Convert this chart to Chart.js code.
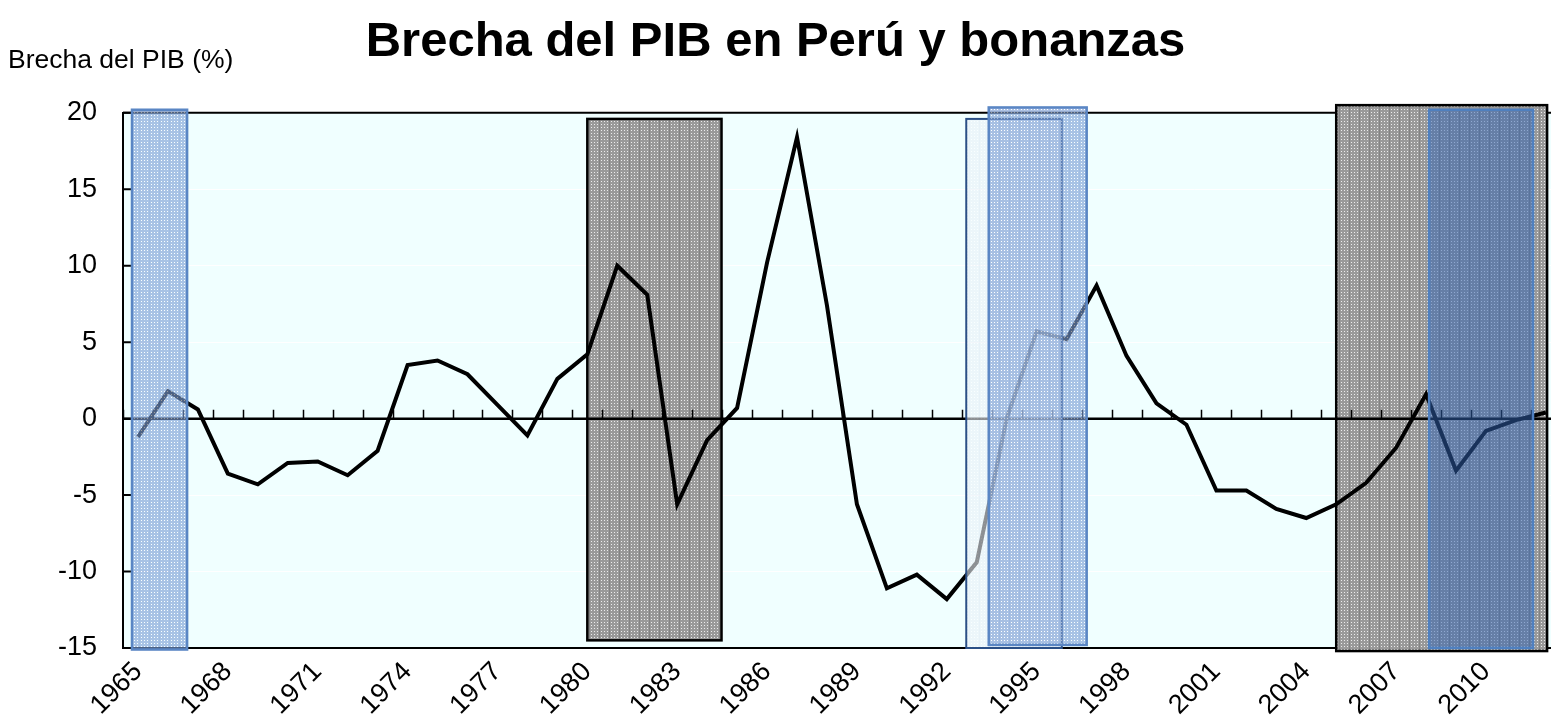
<!DOCTYPE html>
<html>
<head>
<meta charset="utf-8">
<script src="https://cdn.jsdelivr.net/npm/chart.js@4.4.0/dist/chart.umd.min.js"></script>
<style>
  html, body { margin: 0; padding: 0; background: #fff; overflow: hidden; }
</style>
</head>
<body>
<canvas id="gapChart" width="1551" height="720"></canvas>
<script>
// Brecha del PIB (%) por año
var years = [1965, 1966, 1967, 1968, 1969, 1970, 1971, 1972, 1973, 1974,
             1975, 1976, 1977, 1978, 1979, 1980, 1981, 1982, 1983, 1984,
             1985, 1986, 1987, 1988, 1989, 1990, 1991, 1992, 1993, 1994,
             1995, 1996, 1997, 1998, 1999, 2000, 2001, 2002, 2003, 2004,
             2005, 2006, 2007, 2008, 2009, 2010, 2011, 2012];
var gap = [-1.2, 1.8, 0.6, -3.6, -4.3, -2.9, -2.8, -3.7, -2.1, 3.5,
           3.8, 2.9, 0.9, -1.1, 2.6, 4.2, 10.0, 8.1, -5.6, -1.4,
           0.7, 10.2, 18.4, 7.4, -5.6, -11.1, -10.2, -11.8, -9.4, 0.0,
           5.7, 5.2, 8.7, 4.1, 1.0, -0.4, -4.7, -4.7, -5.9, -6.5,
           -5.6, -4.2, -1.9, 1.6, -3.4, -0.8, -0.1, 0.4];
var xTickYears = [1965, 1968, 1971, 1974, 1977, 1980, 1983, 1986, 1989, 1992, 1995, 1998, 2001, 2004, 2007, 2010];
var yTicks = [-15, -10, -5, 0, 5, 10, 15, 20];

// bonanzas (periodos sombreados)
var boxFrom = [1964.8, 1980.0, 2005.0, 1992.65, 1993.4, 2008.1];
var boxTo   = [1966.64, 1984.48, 2012.04, 1995.84, 1996.67, 2011.57];
var boxTop  = [20.2, 19.6, 20.5, 19.6, 20.35, 20.2];
var boxBot  = [-15.1, -14.5, -15.2, -15.0, -14.8, -15.0];
var boxKind = ['blue', 'gray', 'gray', 'pale', 'blue', 'dark'];

var FONT = "'Liberation Sans', Arial, sans-serif";

function makePattern(base, dot, stripe) {
    var c = document.createElement('canvas');
    c.width = 10; c.height = 3;
    var g = c.getContext('2d');
    g.fillStyle = base; g.fillRect(0, 0, 10, 3);
    g.fillStyle = stripe; g.fillRect(9, 0, 1, 3);
    g.fillStyle = dot;
    g.fillRect(1, 1, 1, 1); g.fillRect(4, 1, 1, 1); g.fillRect(7, 1, 1, 1);
    return document.getElementById('gapChart').getContext('2d').createPattern(c, 'repeat');
}

var grayPat = makePattern('#9a9a9a', '#ececec', '#838383');
var bluePat = makePattern('#7c9fd6', '#ffffff', '#7095d0');
var palePat = makePattern('#eaf1f7', '#ffffff', '#e2eaf3');

function drawBox(chart, i) {
    var ctx = chart.ctx, xs = chart.scales.x, ys = chart.scales.y;
    var x1 = xs.getPixelForValue(boxFrom[i]), x2 = xs.getPixelForValue(boxTo[i]);
    var y1 = ys.getPixelForValue(boxTop[i]), y2 = ys.getPixelForValue(boxBot[i]);
    ctx.save();
    var kind = boxKind[i];
    if (kind === 'gray') {
        ctx.fillStyle = grayPat;
        ctx.fillRect(x1, y1, x2 - x1, y2 - y1);
        ctx.strokeStyle = '#000'; ctx.lineWidth = 2.5;
    } else if (kind === 'blue') {
        ctx.globalAlpha = 0.62;
        ctx.fillStyle = bluePat;
        ctx.fillRect(x1, y1, x2 - x1, y2 - y1);
        ctx.globalAlpha = 1;
        ctx.strokeStyle = '#5a86c4'; ctx.lineWidth = 2.5;
    } else if (kind === 'pale') {
        ctx.globalAlpha = 0.6;
        ctx.fillStyle = palePat;
        ctx.fillRect(x1, y1, x2 - x1, y2 - y1);
        ctx.globalAlpha = 1;
        ctx.strokeStyle = '#2a4f86'; ctx.lineWidth = 2;
    } else {
        ctx.fillStyle = 'rgba(50, 100, 180, 0.5)';
        ctx.fillRect(x1, y1, x2 - x1, y2 - y1);
        ctx.strokeStyle = '#4f80c0'; ctx.lineWidth = 2.5;
    }
    ctx.strokeRect(x1, y1, x2 - x1, y2 - y1);
    ctx.restore();
}

var bonanzaPlugin = {
    id: 'bonanzas',
    beforeDraw: function (chart) {
        var a = chart.chartArea, ctx = chart.ctx;
        ctx.save();
        ctx.fillStyle = '#f0ffff';
        ctx.fillRect(a.left, a.top, a.right - a.left, a.bottom - a.top);
        ctx.restore();
    },
    beforeDatasetsDraw: function (chart) {
        var a = chart.chartArea, ctx = chart.ctx, xs = chart.scales.x, ys = chart.scales.y;
        // top border of the plot area
        ctx.save();
        ctx.strokeStyle = '#000'; ctx.lineWidth = 2;
        ctx.beginPath(); ctx.moveTo(a.left, a.top); ctx.lineTo(a.right, a.top); ctx.stroke();
        ctx.restore();
        for (var i = 0; i < boxKind.length; i++) {
            if (boxKind[i] === 'gray') drawBox(chart, i);
        }
        // zero line with small ticks between years
        var y0 = ys.getPixelForValue(0);
        ctx.save();
        ctx.strokeStyle = '#000';
        ctx.lineWidth = 1.5;
        ctx.beginPath();
        for (var k = 0; k <= years.length; k++) {
            var xp = Math.round(xs.getPixelForValue(years[0] - 0.5 + k)) + 0.5;
            if (xp > a.right) break;
            ctx.moveTo(xp, y0); ctx.lineTo(xp, y0 - 9);
        }
        ctx.stroke();
        ctx.lineWidth = 2.5;
        ctx.beginPath(); ctx.moveTo(a.left, y0); ctx.lineTo(a.right, y0); ctx.stroke();
        // inner ticks on the value axis
        ctx.lineWidth = 2;
        ctx.beginPath();
        yTicks.forEach(function (v) {
            var yp = ys.getPixelForValue(v);
            ctx.moveTo(a.left, yp); ctx.lineTo(a.left + 9, yp);
        });
        ctx.stroke();
        ctx.restore();
    },
    afterDatasetsDraw: function (chart) {
        for (var i = 0; i < boxKind.length; i++) {
            if (boxKind[i] !== 'gray') drawBox(chart, i);
        }
    },
    afterDraw: function (chart) {
        var ctx = chart.ctx;
        ctx.save();
        ctx.fillStyle = '#000';
        ctx.font = '26.5px ' + FONT;
        ctx.textBaseline = 'alphabetic';
        ctx.textAlign = 'left';
        ctx.fillText('Brecha del PIB (%)', 8, 68);
        ctx.restore();
    }
};

var ctx = document.getElementById('gapChart').getContext('2d');
var gapChart = new Chart(ctx, {
    type: 'line',
    data: {
        datasets: [{
            label: 'Brecha del PIB',
            data: years.map(function (y, i) { return { x: y, y: gap[i] }; }),
            borderColor: '#000',
            borderWidth: 4,
            pointRadius: 0,
            tension: 0,
            fill: false
        }]
    },
    plugins: [bonanzaPlugin],
    options: {
        responsive: false,
        animation: false,
        devicePixelRatio: 1,
        layout: { padding: 0 },
        plugins: {
            legend: { display: false },
            tooltip: { enabled: false },
            title: {
                display: true,
                text: 'Brecha del PIB en Perú y bonanzas',
                color: '#000',
                font: { family: FONT, size: 49, weight: 'bold', lineHeight: 1.2 },
                padding: { top: 13, bottom: 41 }
            }
        },
        scales: {
            x: {
                type: 'linear',
                min: 1964.5,
                max: 2012.17,
                afterFit: function (s) { s.height = 72; },
                afterBuildTicks: function (s) {
                    s.ticks = xTickYears.map(function (v) { return { value: v }; });
                },
                grid: { display: false, drawTicks: false },
                border: { display: true, color: '#000', width: 2 },
                ticks: {
                    autoSkip: false,
                    minRotation: 45,
                    maxRotation: 45,
                    padding: 8,
                    color: '#000',
                    font: { family: FONT, size: 27 },
                    callback: function (v) { return String(v); }
                }
            },
            y: {
                min: -15,
                max: 20,
                afterFit: function (s) { s.width = 123; },
                afterBuildTicks: function (s) {
                    s.ticks = yTicks.map(function (v) { return { value: v }; });
                },
                grid: { color: '#ffffff', lineWidth: 1, drawTicks: false },
                border: { display: true, color: '#000', width: 2 },
                ticks: {
                    padding: 26,
                    color: '#000',
                    font: { family: FONT, size: 27 }
                }
            }
        }
    }
});
</script>
</body>
</html>
